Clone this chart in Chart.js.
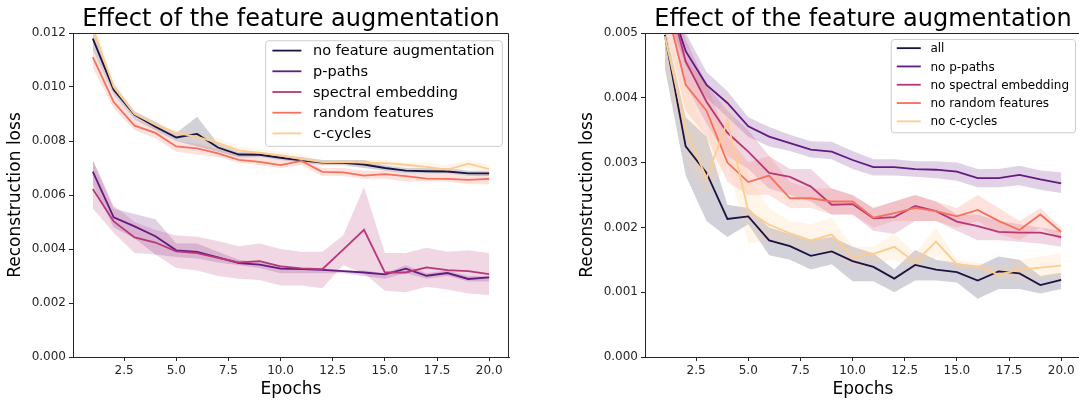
<!DOCTYPE html>
<html>
<head>
<meta charset="utf-8">
<script src="https://cdn.jsdelivr.net/npm/chart.js@4.4.1/dist/chart.umd.min.js"></script>
<style>
  html, body { margin: 0; padding: 0; background: #fff; overflow: hidden; width: 1079px; height: 400px; }
  canvas { position: absolute; top: 0; }
  #left { left: 0; }
  #right { left: 572px; }
</style>
</head>
<body>
<canvas id="left" width="540" height="400"></canvas>
<canvas id="right" width="540" height="400"></canvas>
<script>
const epochs = [1, 2, 3, 4, 5, 6, 7, 8, 9, 10, 11, 12, 13, 14, 15, 16, 17, 18, 19, 20];
const xTicks = [2.5, 5, 7.5, 10, 12.5, 15, 17.5, 20];
const leftYTicks = [0, 0.002, 0.004, 0.006, 0.008, 0.010, 0.012];
const rightYTicks = [0, 0.001, 0.002, 0.003, 0.004, 0.005];

const leftLabels = ["no feature augmentation", "p-paths", "spectral embedding", "random features", "c-cycles"];
const rightLabels = ["all", "no p-paths", "no spectral embedding", "no random features", "no c-cycles"];

// left panel: mean line + band (lo / hi)
const leftNoAug   = [0.01179, 0.0099, 0.00897, 0.00853, 0.00813, 0.00826, 0.00776, 0.0075, 0.00749, 0.00738, 0.00728, 0.0072, 0.00719, 0.00713, 0.0070, 0.0069, 0.00688, 0.00687, 0.0068, 0.0068];
const leftNoAugLo = [0.0114, 0.0097, 0.0088, 0.0084, 0.0080, 0.0078, 0.0076, 0.0074, 0.0074, 0.0073, 0.0072, 0.0071, 0.0071, 0.0070, 0.0069, 0.0068, 0.0068, 0.0068, 0.0067, 0.0067];
const leftNoAugHi = [0.0121, 0.0101, 0.0091, 0.0087, 0.0083, 0.0089, 0.0079, 0.0076, 0.0076, 0.0075, 0.0074, 0.0073, 0.0073, 0.0073, 0.0071, 0.0070, 0.0070, 0.0070, 0.0069, 0.0069];

const leftPPaths   = [0.00687, 0.00517, 0.00484, 0.00447, 0.00395, 0.00389, 0.00369, 0.00348, 0.00342, 0.00327, 0.00326, 0.00323, 0.00318, 0.00313, 0.00306, 0.00327, 0.00301, 0.00311, 0.00289, 0.00295];
const leftPPathsLo = [0.0064, 0.0048, 0.0044, 0.0038, 0.0037, 0.00365, 0.0035, 0.0034, 0.0033, 0.0031, 0.0031, 0.0031, 0.0031, 0.0030, 0.0029, 0.0031, 0.0029, 0.0030, 0.0028, 0.0028];
const leftPPathsHi = [0.0073, 0.0055, 0.0053, 0.0051, 0.0042, 0.0042, 0.0039, 0.0036, 0.0035, 0.0034, 0.0033, 0.0033, 0.0032, 0.0032, 0.0031, 0.0034, 0.0031, 0.0032, 0.0030, 0.0030];

const leftSpectral   = [0.00622, 0.00502, 0.00443, 0.00424, 0.00391, 0.00385, 0.00367, 0.0035, 0.00355, 0.00336, 0.00328, 0.00325, 0.00398, 0.00471, 0.00313, 0.00313, 0.00332, 0.00322, 0.00318, 0.00307];
const leftSpectralLo = [0.0055, 0.0046, 0.00385, 0.0038, 0.0033, 0.0032, 0.0030, 0.0029, 0.00285, 0.00265, 0.00265, 0.00255, 0.0034, 0.0031, 0.00245, 0.0024, 0.0026, 0.0025, 0.00235, 0.0023];
const leftSpectralHi = [0.0073, 0.0056, 0.0050, 0.0047, 0.0045, 0.00445, 0.0043, 0.0041, 0.0042, 0.0040, 0.0039, 0.0039, 0.0045, 0.0063, 0.00385, 0.00385, 0.00405, 0.0039, 0.00395, 0.00385];

const leftRandom   = [0.01111, 0.00944, 0.00857, 0.0083, 0.0078, 0.00773, 0.00754, 0.0073, 0.00723, 0.00711, 0.00726, 0.00686, 0.00684, 0.00672, 0.00677, 0.0067, 0.00661, 0.0066, 0.00656, 0.0066];
const leftRandomLo = [0.0107, 0.0092, 0.0084, 0.0081, 0.0076, 0.0075, 0.0074, 0.0072, 0.0071, 0.0070, 0.0071, 0.0067, 0.0067, 0.0066, 0.0066, 0.0065, 0.0065, 0.0065, 0.0064, 0.0064];
const leftRandomHi = [0.0115, 0.0097, 0.0088, 0.0085, 0.0080, 0.0079, 0.0077, 0.0075, 0.0074, 0.0073, 0.0074, 0.0070, 0.0070, 0.0069, 0.0069, 0.0068, 0.0068, 0.0068, 0.0067, 0.0068];

const leftCCycles   = [0.0122, 0.0100, 0.0090, 0.0086, 0.0083, 0.00815, 0.00793, 0.00765, 0.00756, 0.00746, 0.00733, 0.00722, 0.00722, 0.0072, 0.00718, 0.00712, 0.00704, 0.00694, 0.00716, 0.00696];
const leftCCyclesLo = [0.0119, 0.0098, 0.0089, 0.0085, 0.0082, 0.0080, 0.0078, 0.0076, 0.0075, 0.0074, 0.0072, 0.0071, 0.0071, 0.0071, 0.0071, 0.0070, 0.0069, 0.0068, 0.0070, 0.0068];
const leftCCyclesHi = [0.0125, 0.0102, 0.0091, 0.0087, 0.0084, 0.0083, 0.0081, 0.0078, 0.0077, 0.0076, 0.0075, 0.0073, 0.0073, 0.0073, 0.0073, 0.0072, 0.0072, 0.0071, 0.0073, 0.0071];

// right panel
const rightAll   = [0.00497, 0.00325, 0.00284, 0.00213, 0.00217, 0.0018, 0.00171, 0.00156, 0.00163, 0.00148, 0.00139, 0.00121, 0.00142, 0.00135, 0.00131, 0.00118, 0.00132, 0.00129, 0.00111, 0.00119];
const rightAllLo = [0.00446, 0.0028, 0.0021, 0.00185, 0.00205, 0.00157, 0.0015, 0.00135, 0.00143, 0.00117, 0.00117, 0.0010, 0.00118, 0.00118, 0.00115, 0.0009, 0.00105, 0.00105, 0.00098, 0.00105];
const rightAllHi = [0.0051, 0.0037, 0.0034, 0.00235, 0.0023, 0.0020, 0.0019, 0.0018, 0.00185, 0.0017, 0.0016, 0.00135, 0.00165, 0.0015, 0.00145, 0.0014, 0.00155, 0.0015, 0.00125, 0.0013];

const rightNoPPaths   = [0.0057, 0.00472, 0.0042, 0.00392, 0.00356, 0.0034, 0.0033, 0.0032, 0.00317, 0.00304, 0.00293, 0.00293, 0.0029, 0.00289, 0.00286, 0.00276, 0.00276, 0.00281, 0.00274, 0.00268];
const rightNoPPathsLo = [0.0054, 0.0045, 0.0040, 0.0037, 0.0034, 0.00325, 0.00318, 0.00308, 0.00305, 0.0029, 0.0028, 0.0028, 0.00278, 0.00276, 0.00272, 0.00262, 0.00262, 0.00265, 0.00258, 0.00253];
const rightNoPPathsHi = [0.0061, 0.0050, 0.0044, 0.0041, 0.0037, 0.00355, 0.00343, 0.00333, 0.00332, 0.00318, 0.00305, 0.00305, 0.00302, 0.00302, 0.0030, 0.0029, 0.0029, 0.00295, 0.00288, 0.00285];

const rightNoSpectral   = [0.0058, 0.00456, 0.00394, 0.00346, 0.00317, 0.00284, 0.00278, 0.00263, 0.00235, 0.00236, 0.00214, 0.00216, 0.00233, 0.00225, 0.00209, 0.00202, 0.00193, 0.00192, 0.00192, 0.00185];
const rightNoSpectralLo = [0.0054, 0.0042, 0.0036, 0.0031, 0.0029, 0.0026, 0.0025, 0.0024, 0.0022, 0.0022, 0.00195, 0.0019, 0.0021, 0.0021, 0.00195, 0.0018, 0.0018, 0.00178, 0.00175, 0.0017];
const rightNoSpectralHi = [0.0062, 0.0049, 0.0042, 0.0038, 0.0035, 0.0031, 0.0029, 0.0029, 0.0026, 0.0025, 0.0023, 0.0024, 0.0025, 0.0024, 0.0022, 0.0022, 0.0021, 0.00205, 0.0020, 0.00195];

const rightNoRandom   = [0.0055, 0.0042, 0.0038, 0.0030, 0.0027, 0.0028, 0.00245, 0.00245, 0.0024, 0.0024, 0.00215, 0.00222, 0.0023, 0.00225, 0.00217, 0.00227, 0.0021, 0.00196, 0.0022, 0.00193];
const rightNoRandomLo = [0.0051, 0.0038, 0.0034, 0.0027, 0.0025, 0.0025, 0.0023, 0.0023, 0.0022, 0.0022, 0.0020, 0.0021, 0.0021, 0.0021, 0.0020, 0.0021, 0.0019, 0.0018, 0.0020, 0.0018];
const rightNoRandomHi = [0.0059, 0.0046, 0.0042, 0.0034, 0.0030, 0.0031, 0.0027, 0.0026, 0.0026, 0.0025, 0.0023, 0.0024, 0.0025, 0.0024, 0.0023, 0.0025, 0.0023, 0.0021, 0.0023, 0.0020];

const rightNoCCycles   = [0.00495, 0.00351, 0.00276, 0.00364, 0.00225, 0.00204, 0.00191, 0.0018, 0.00189, 0.00155, 0.00159, 0.0017, 0.00146, 0.00178, 0.00143, 0.0014, 0.00127, 0.00135, 0.00138, 0.00141];
const rightNoCCyclesLo = [0.0046, 0.0030, 0.0025, 0.0030, 0.00175, 0.0018, 0.0017, 0.00165, 0.0016, 0.0014, 0.00145, 0.0015, 0.00135, 0.00155, 0.00135, 0.00135, 0.0012, 0.0012, 0.00122, 0.00122];
const rightNoCCyclesHi = [0.0051, 0.0042, 0.0034, 0.0041, 0.0028, 0.0023, 0.0021, 0.00205, 0.00215, 0.0017, 0.0017, 0.0019, 0.0016, 0.0020, 0.0015, 0.00145, 0.0014, 0.0015, 0.00155, 0.0016];

const lineColors = ["#1c1340", "#641a80", "#b73779", "#f7705c", "#fecc8f"];
const FONT = '"DejaVu Sans", sans-serif';
const INK = "#262626";

function rgba(hex, a) {
    const n = parseInt(hex.slice(1), 16);
    return `rgba(${(n >> 16) & 255}, ${(n >> 8) & 255}, ${n & 255}, ${a})`;
}

function pts(values) {
    return epochs.map((e, i) => ({ x: e, y: values[i] }));
}

// frame (top/right spines), title and a matplotlib-like legend
const decor = {
    id: "decor",
    afterDatasetsDraw(chart, args, opts) {
        const { ctx, chartArea: a } = chart;
        ctx.save();
        ctx.strokeStyle = INK;
        ctx.lineWidth = 1;
        ctx.beginPath();
        ctx.moveTo(a.left, a.top + 0.5);
        ctx.lineTo(a.right - 0.5, a.top + 0.5);
        ctx.lineTo(a.right - 0.5, a.bottom);
        ctx.stroke();

        ctx.fillStyle = "#000";
        ctx.font = `24px ${FONT}`;
        ctx.textAlign = "center";
        ctx.textBaseline = "alphabetic";
        ctx.fillText(opts.title, (a.left + a.right) / 2, 26);

        const fs = opts.legendFont, row = opts.legendRow;
        const items = chart.data.datasets.filter(d => d.inLegend);
        ctx.font = `${fs}px ${FONT}`;
        const textW = Math.max(...items.map(d => ctx.measureText(d.label).width));
        const m = 0.5 * fs, handle = 2 * fs, gap = 0.8 * fs;
        const w = m + handle + gap + textW + m;
        const h = row * (items.length - 1) + row * 1.1;
        const x0 = a.right - 0.5 * fs - w;
        const y0 = a.top + 0.5 * fs;
        ctx.beginPath();
        ctx.roundRect(x0 + 0.5, y0 + 0.5, w, h, 3);
        ctx.fillStyle = "rgba(255,255,255,0.8)";
        ctx.fill();
        ctx.strokeStyle = "#cccccc";
        ctx.stroke();
        ctx.textAlign = "left";
        ctx.textBaseline = "middle";
        items.forEach((d, i) => {
            const y = y0 + row * 0.5 + i * row;
            ctx.strokeStyle = d.borderColor;
            ctx.lineWidth = d.borderWidth;
            ctx.beginPath();
            ctx.moveTo(x0 + m, y);
            ctx.lineTo(x0 + m + handle, y);
            ctx.stroke();
            ctx.fillStyle = "#000";
            ctx.fillText(d.label, x0 + m + handle + gap, y + 1);
        });
        ctx.restore();
    },
};

function makeChart(canvas, title, labels, means, lows, highs, yTicks, yDigits, legendFont, legendRow) {
    const sets = [];
    labels.forEach((label, i) => {
        sets.push({
            label: label + " lower", data: pts(lows[i]),
            borderColor: "rgba(0,0,0,0)", borderWidth: 0, pointRadius: 0, fill: false,
        });
        sets.push({
            label: label + " upper", data: pts(highs[i]),
            borderColor: "rgba(0,0,0,0)", borderWidth: 0, pointRadius: 0,
            fill: "-1", backgroundColor: rgba(lineColors[i], 0.2),
        });
    });
    labels.forEach((label, i) => {
        sets.push({
            label: label, data: pts(means[i]), inLegend: true,
            borderColor: lineColors[i], borderWidth: 1.8, pointRadius: 0, fill: false, tension: 0,
        });
    });
    // bands under lines, later series on top
    sets.forEach((s, i) => { s.order = sets.length - i; });

    return new Chart(canvas, {
        type: "line",
        data: { datasets: sets },
        plugins: [decor],
        options: {
            responsive: false,
            animation: false,
            layout: { padding: { top: 33, right: 31, left: 0, bottom: 0 } },
            plugins: {
                legend: { display: false },
                tooltip: { enabled: false },
                decor: { title: title, legendFont: legendFont, legendRow: legendRow },
            },
            scales: {
                x: {
                    type: "linear", min: 0.05, max: 20.95,
                    afterBuildTicks: s => { s.ticks = xTicks.map(v => ({ value: v })); },
                    afterFit: s => { s.height = 43; },
                    grid: { drawOnChartArea: false, drawTicks: true, tickLength: 4, color: INK },
                    border: { display: true, color: INK, width: 1 },
                    ticks: { color: INK, padding: 3, maxRotation: 0, font: { family: FONT, size: 12 }, callback: v => v.toFixed(1) },
                    title: { display: true, text: "Epochs", color: "#000", padding: { top: 0, bottom: 0 }, font: { family: FONT, size: 17 } },
                },
                y: {
                    type: "linear", min: 0, max: yTicks[yTicks.length - 1],
                    afterBuildTicks: s => { s.ticks = yTicks.map(v => ({ value: v })); },
                    afterFit: s => { s.width = 73; },
                    grid: { drawOnChartArea: false, drawTicks: true, tickLength: 4, color: INK },
                    border: { display: true, color: INK, width: 1 },
                    ticks: { color: INK, padding: 3, font: { family: FONT, size: 12 }, callback: v => v.toFixed(yDigits) },
                    title: { display: true, text: "Reconstruction loss", color: "#000", padding: { top: 5, bottom: 0 }, font: { family: FONT, size: 17 } },
                },
            },
        },
    });
}

makeChart(document.getElementById("left"), "Effect of the feature augmentation", leftLabels,
    [leftNoAug, leftPPaths, leftSpectral, leftRandom, leftCCycles],
    [leftNoAugLo, leftPPathsLo, leftSpectralLo, leftRandomLo, leftCCyclesLo],
    [leftNoAugHi, leftPPathsHi, leftSpectralHi, leftRandomHi, leftCCyclesHi],
    leftYTicks, 3, 14.5, 20.7);

makeChart(document.getElementById("right"), "Effect of the feature augmentation", rightLabels,
    [rightAll, rightNoPPaths, rightNoSpectral, rightNoRandom, rightNoCCycles],
    [rightAllLo, rightNoPPathsLo, rightNoSpectralLo, rightNoRandomLo, rightNoCCyclesLo],
    [rightAllHi, rightNoPPathsHi, rightNoSpectralHi, rightNoRandomHi, rightNoCCyclesHi],
    rightYTicks, 3, 12, 18.3);
</script>
</body>
</html>
